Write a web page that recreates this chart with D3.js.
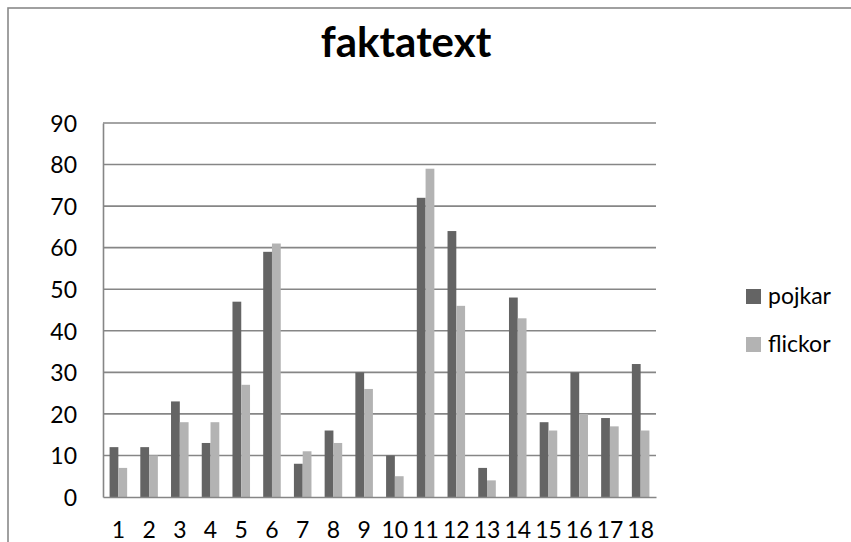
<!DOCTYPE html>
<html>
<head>
<meta charset="utf-8">
<script src="https://cdn.jsdelivr.net/npm/d3@7"></script>
<style>
  html, body { margin: 0; padding: 0; background: #fff; }
  svg { display: block; }
  text { font-family: Lato, "Open Sans", sans-serif; fill: #000; }
</style>
</head>
<body>
<svg id="chart" width="851" height="542"></svg>
<script>
// Chart data
const categories = ["1","2","3","4","5","6","7","8","9","10","11","12","13","14","15","16","17","18"];
const seriesNames = ["pojkar", "flickor"];
const pojkar  = [12, 12, 23, 13, 47, 59, 8, 16, 30, 10, 72, 64, 7, 48, 18, 30, 19, 32];
const flickor = [7, 10, 18, 18, 27, 61, 11, 13, 26, 5, 79, 46, 4, 43, 16, 20, 17, 16];
const yTicks = [0, 10, 20, 30, 40, 50, 60, 70, 80, 90];
const title = "faktatext";

const seriesValues = { pojkar, flickor };
const colors = { pojkar: "#646464", flickor: "#b3b3b3" };

const svg = d3.select("#chart");

// Outer chart frame (right and bottom edges fall outside the view)
svg.append("rect")
  .attr("x", 8).attr("y", 8)
  .attr("width", 900).attr("height", 600)
  .attr("fill", "none")
  .attr("stroke", "#898989")
  .attr("stroke-width", 1.6);

// Plot area
const plot = { left: 103, right: 656, top: 123, bottom: 497 };

const x0 = d3.scaleBand()
  .domain(categories)
  .range([plot.left, plot.right])
  .paddingInner(1.5 / 3.5)
  .paddingOuter(0.75 / 3.5);

const x1 = d3.scaleBand()
  .domain(seriesNames)
  .range([0, x0.bandwidth()]);

const y = d3.scaleLinear()
  .domain([0, 90])
  .range([plot.bottom, plot.top]);

// Horizontal gridlines
svg.append("g")
  .selectAll("line")
  .data(yTicks.filter(d => d > 0))
  .join("line")
  .attr("x1", plot.left).attr("x2", plot.right)
  .attr("y1", d => y(d)).attr("y2", d => y(d))
  .attr("stroke", "#868686")
  .attr("stroke-width", 1.6);

// Bars
const groups = svg.append("g")
  .selectAll("g")
  .data(categories)
  .join("g")
  .attr("transform", d => `translate(${x0(d)},0)`);

groups.selectAll("rect")
  .data((c, i) => seriesNames.map(s => ({ s, v: seriesValues[s][i] })))
  .join("rect")
  .attr("x", d => x1(d.s))
  .attr("width", x1.bandwidth())
  .attr("y", d => y(d.v))
  .attr("height", d => y(0) - y(d.v))
  .attr("fill", d => colors[d.s]);

// Axes
const yAxis = d3.axisLeft(y).tickValues(yTicks).tickSize(0).tickPadding(26);
const yG = svg.append("g")
  .attr("transform", `translate(${plot.left},0)`)
  .call(yAxis);
yG.select(".domain").attr("stroke", "#868686").attr("stroke-width", 1.6);
yG.selectAll("text")
  .style("font-family", "Lato, sans-serif")
  .style("font-size", "23px")
  .attr("fill", "#000")
  .attr("dy", "0.36em");

const xAxis = d3.axisBottom(x0).tickSize(0).tickPadding(25);
const xG = svg.append("g")
  .attr("transform", `translate(0,${plot.bottom})`)
  .call(xAxis);
xG.select(".domain").attr("stroke", "#868686").attr("stroke-width", 1.6);
xG.selectAll("text")
  .style("font-family", "Lato, sans-serif")
  .style("font-size", "23px")
  .attr("fill", "#000")
  .attr("dy", "0.71em");

// Title
svg.append("text")
  .attr("x", 406)
  .attr("y", 57)
  .attr("text-anchor", "middle")
  .style("font-family", "Lato, sans-serif")
  .style("font-weight", "bold")
  .style("font-size", "42px")
  .text(title);

// Legend
const legend = svg.append("g")
  .selectAll("g")
  .data(seriesNames)
  .join("g")
  .attr("transform", (d, i) => `translate(746,${289 + i * 48})`);

legend.append("rect")
  .attr("width", 15).attr("height", 15)
  .attr("fill", d => colors[d]);

legend.append("text")
  .attr("x", 22)
  .attr("y", 15)
  .style("font-family", "Lato, sans-serif")
  .style("font-size", "23px")
  .text(d => d);
</script>
</body>
</html>
